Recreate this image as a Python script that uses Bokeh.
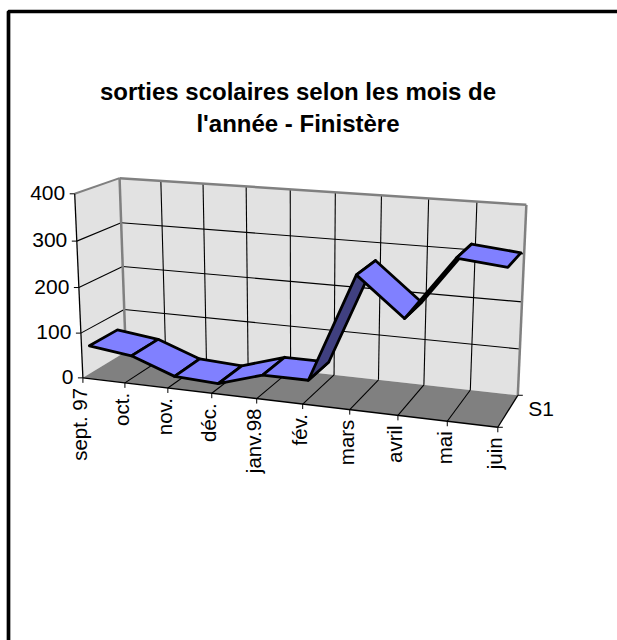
from math import pi
import numpy as np
from bokeh.plotting import figure
from bokeh.models import Range1d
from bokeh.core.properties import value
from bokeh.embed import file_html
from bokeh.resources import INLINE

categories = ["sept. 97", "oct.", "nov.", "déc.", "janv.98", "fév.", "mars", "avril", "mai", "juin"]
values = [62, 50, 15, 10, 40, 40, 270, 190, 320, 310]
y_ticks = [0, 100, 200, 300, 400]
series_name = "S1"
title_lines = ["sorties scolaires selon les mois de", "l'année - Finistère"]

WALL, FLOOR, EDGE = "#e2e2e2", "#808080", "#808080"
LIGHT, DARK = "#8080ff", "#404080"
FONT = value("Liberation Sans")
NCAT = len(categories) - 1
YMAX = y_ticks[-1]
D0, D1 = 0.17, 0.82

# camera calibration: (category fraction, value fraction, depth) -> page pixel
_corners = [
    (0, 0, 0, 81.7, 376.7), (0, 1, 0, 75, 193.3), (0, 1, 1, 118.3, 177.3), (0, 0, 1, 126, 352),
    (1, 1, 1, 526, 204.3), (1, 0, 1, 517.3, 394), (1, 0, 0, 497.3, 427.3),
]
_inner = [
    (1/9, 0, 0, 124, 382.3), (2/9, 0, 0, 167.3, 388.3), (3/9, 0, 0, 211, 394),
    (4/9, 0, 0, 256.7, 399.3), (5/9, 0, 0, 301.7, 405), (6/9, 0, 0, 349, 410),
    (7/9, 0, 0, 396.7, 416), (8/9, 0, 0, 446.7, 421.7),
    (1/9, 1, 1, 160, 182), (2/9, 1, 1, 201.7, 185), (3/9, 1, 1, 245, 189), (4/9, 1, 1, 289.3, 191),
    (5/9, 1, 1, 334, 194), (6/9, 1, 1, 380.7, 197), (7/9, 1, 1, 427.3, 199.5), (8/9, 1, 1, 475.7, 202),
]
_A, _b = [], []
for (pts, w) in ((_corners, 6.0), (_inner, 1.0)):
    for X, Y, Z, sx, sy in pts:
        _A.append([w*k for k in (X, Y, Z, 1, 0, 0, 0, 0, -sx*X, -sx*Y, -sx*Z)]); _b.append(w*sx)
        _A.append([w*k for k in (0, 0, 0, 0, X, Y, Z, 1, -sy*X, -sy*Y, -sy*Z)]); _b.append(w*sy)
_h = np.linalg.lstsq(np.array(_A, float), np.array(_b, float), rcond=None)[0]
P = np.append(_h, 1.0).reshape(3, 4)


def proj(i, v, d):
    q = P @ np.array([i / NCAT, v / YMAX, d, 1.0])
    return q[0] / q[2], q[1] / q[2]


def poly(pts, **kw):
    p.patch([a for a, _ in pts], [b for _, b in pts], **kw)


def seg(a, b, color, width):
    p.line([a[0], b[0]], [a[1], b[1]], line_color=color, line_width=width)


p = figure(width=617, height=640, output_backend="svg", toolbar_location=None,
           x_range=Range1d(0, 617), y_range=Range1d(640, 0), min_border=0)
p.axis.visible = False
p.grid.visible = False
p.outline_line_color = None
p.background_fill_color = "white"
p.border_fill_color = "white"

# chart-area frame (only top and left fall inside the window)
p.line([8, 8, 617], [640, 11, 11], line_color="black", line_width=3.7)

# walls and floor
poly([proj(0, 0, 0), proj(0, YMAX, 0), proj(0, YMAX, 1), proj(0, 0, 1)], fill_color=WALL, line_color=None)
poly([proj(0, 0, 1), proj(0, YMAX, 1), proj(NCAT, YMAX, 1), proj(NCAT, 0, 1)], fill_color=WALL, line_color=None)
poly([proj(0, 0, 0), proj(0, 0, 1), proj(NCAT, 0, 1), proj(NCAT, 0, 0)], fill_color=FLOOR, line_color=None)

# gridlines
for t in y_ticks[1:-1]:
    seg(proj(0, t, 0), proj(0, t, 1), "black", 1.1)
    seg(proj(0, t, 1), proj(NCAT, t, 1), "black", 1.1)
for i in range(1, NCAT):
    seg(proj(i, 0, 1), proj(i, YMAX, 1), "black", 1.1)
    seg(proj(i, 0, 0), proj(i, 0, 1), "black", 1.1)

# wall edges
seg(proj(0, YMAX, 0), proj(0, YMAX, 1), EDGE, 2)
seg(proj(0, YMAX, 1), proj(NCAT, YMAX, 1), EDGE, 2.5)
seg(proj(0, 0, 1), proj(0, YMAX, 1), EDGE, 2.5)
seg(proj(NCAT, 0, 1), proj(NCAT, YMAX, 1), EDGE, 2.5)

# axes
seg(proj(0, 0, 0), proj(0, YMAX, 0), "black", 1.3)
seg(proj(0, 0, 0), proj(NCAT, 0, 0), "black", 1.3)
seg(proj(NCAT, 0, 0), proj(NCAT, 0, 1), "black", 1.3)
for t in y_ticks:
    x, y = proj(0, t, 0)
    seg((x, y), (x - 5, y), "black", 1)
    p.text([x - 9.5], [y - 1], text=[str(t)], text_font=FONT, text_font_size="21px",
           text_align="right", text_baseline="middle", text_color="black")
for i, c in enumerate(categories):
    x, y = proj(i, 0, 0)
    seg((x, y), (x, y + 5), "black", 1)
    p.text([x - 3], [y + 10], text=[c], text_font=FONT, text_font_size="20.5px", angle=pi / 2,
           text_align="right", text_baseline="middle", text_color="black")
for d in (0, 1):
    x, y = proj(NCAT, 0, d)
    seg((x, y), (x + 5, y), "black", 1)
x, y = proj(NCAT, 0, 0.5)
p.text([x + 20], [y - 2], text=[series_name], text_font=FONT, text_font_size="21px",
       text_align="left", text_baseline="middle", text_color="black")

# ribbon
for i in range(NCAT):
    a, b = proj(i, values[i], D0), proj(i + 1, values[i + 1], D0)
    c, d = proj(i + 1, values[i + 1], D1), proj(i, values[i], D1)
    cross = (b[0] - a[0]) * (d[1] - a[1]) - (b[1] - a[1]) * (d[0] - a[0])
    poly([a, b, c, d], fill_color=DARK if cross > 0 else LIGHT, line_color="black", line_width=2.8,
         line_join="round")

# title
for line, y in zip(title_lines, (91, 122.5)):
    p.text([297.5], [y], text=[line], text_font=FONT, text_font_size="24px", text_font_style="bold",
           text_align="center", text_baseline="middle", text_color="black")

open("out.html", "w").write(file_html(p, INLINE))
